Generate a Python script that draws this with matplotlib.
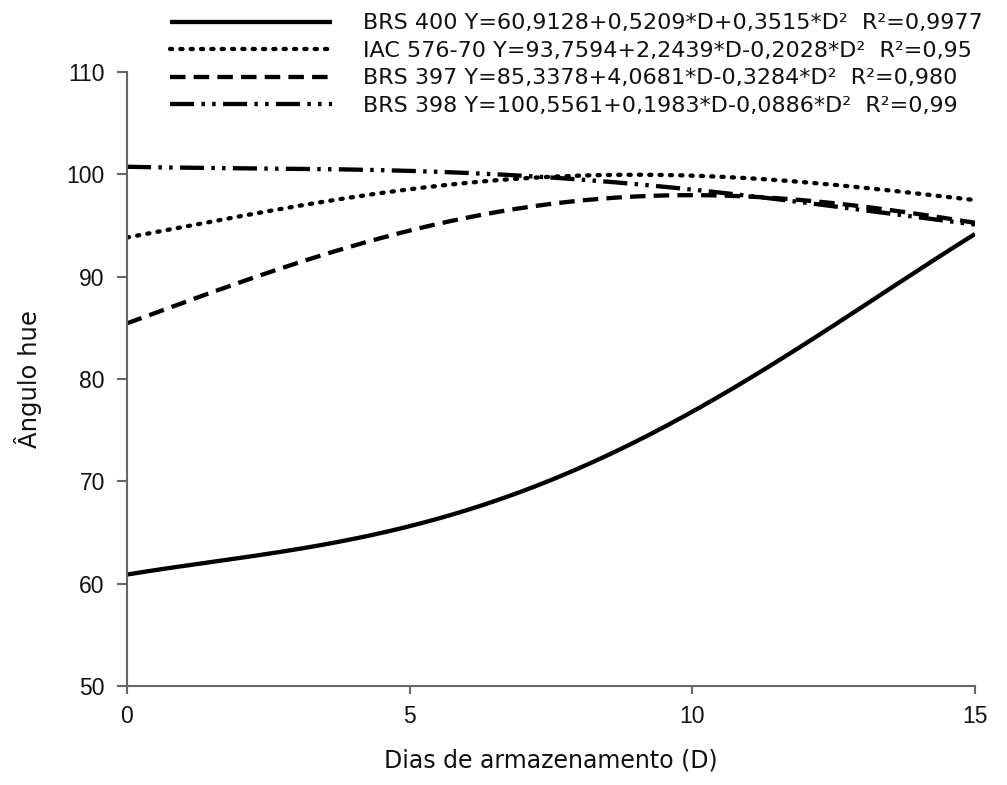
import matplotlib
matplotlib.use("Agg")
import matplotlib.pyplot as plt
import numpy as np

# dias de armazenamento
dias = [0, 1, 2, 3, 4, 5, 6, 7, 8, 9, 10, 11, 12, 13, 14, 15]

# valores (angulo hue)
brs400 = [61.0, 61.6, 62.4, 63.4, 64.5, 65.6, 67.2, 69.1, 71.3, 73.8, 76.7, 80.0, 83.5, 87.1, 90.7, 94.1]
iac576 = [93.8, 94.9, 95.9, 96.9, 97.8, 98.5, 99.1, 99.6, 99.9, 100.0, 99.9, 99.6, 99.2, 98.7, 98.1, 97.5]
brs397 = [85.4, 87.5, 89.5, 91.3, 93.0, 94.5, 95.7, 96.7, 97.4, 97.9, 98.0, 97.9, 97.4, 96.8, 96.1, 95.3]
brs398 = [100.7, 100.7, 100.6, 100.6, 100.4, 100.3, 100.1, 99.9, 99.5, 99.1, 98.5, 97.9, 97.2, 96.5, 95.8, 95.1]

labels = [
    "BRS 400 Y=60,9128+0,5209*D+0,3515*D\u00b2  R\u00b2=0,9977",
    "IAC 576-70 Y=93,7594+2,2439*D-0,2028*D\u00b2  R\u00b2=0,95",
    "BRS 397 Y=85,3378+4,0681*D-0,3284*D\u00b2  R\u00b2=0,980",
    "BRS 398 Y=100,5561+0,1983*D-0,0886*D\u00b2  R\u00b2=0,99",
]

largo = ["DejaVu Sans"]
plt.rcParams["font.family"] = ["Liberation Sans", "DejaVu Sans"]

fig = plt.figure(figsize=(10.07, 7.85), dpi=100)
ax = fig.add_axes([0.1261, 0.1261, 0.8421, 0.7822])

# curva suave entre os pontos lidos
xs = np.linspace(0, 15, 300)
def suave(y):
    c = np.polyfit(dias, y, 4)
    return np.polyval(c, xs)

lw = 3.1
ax.plot(xs, suave(brs400), color="black", lw=lw, solid_capstyle="butt", label=labels[0])
ax.plot(xs, suave(iac576), color="black", lw=lw, linestyle=(0, (0.5, 1.9)),
        dash_capstyle="round", label=labels[1])
ax.plot(xs, suave(brs397), color="black", lw=lw, linestyle=(0, (3.6, 1.9)), label=labels[2])
ax.plot(xs, suave(brs398), color="black", lw=lw,
        linestyle=(0, (5.6, 1.7, 0.8, 1.7, 0.8, 1.7)), label=labels[3])

ax.set_xlim(0, 15)
ax.set_ylim(50, 110)
ax.set_xticks([0, 5, 10, 15])
ax.set_yticks([50, 60, 70, 80, 90, 100, 110])
for s in ["top", "right"]:
    ax.spines[s].set_visible(False)
for s in ["left", "bottom"]:
    ax.spines[s].set_color("#666666")
    ax.spines[s].set_linewidth(1.5)
ax.tick_params(direction="out", width=1.5, color="#666666",
               labelsize=16.5, labelcolor="#111111")
ax.tick_params(axis="y", length=7, pad=9)
ax.tick_params(axis="x", length=5.5, pad=8)

ax.set_xlabel("Dias de armazenamento (D)", fontsize=17, family=largo,
              color="#111111", labelpad=15)
ax.set_ylabel("\u00c2ngulo hue", fontsize=17.5, family=largo,
              color="#111111", labelpad=18)

leg = fig.legend(loc="upper left", bbox_to_anchor=(0.149, 1.0085), frameon=False,
                 handlelength=7.3, handletextpad=1.4, labelspacing=0.34,
                 prop={"family": largo, "size": 16})
for t in leg.get_texts():
    t.set_color("#111111")

fig.savefig("out.png", dpi=100)
